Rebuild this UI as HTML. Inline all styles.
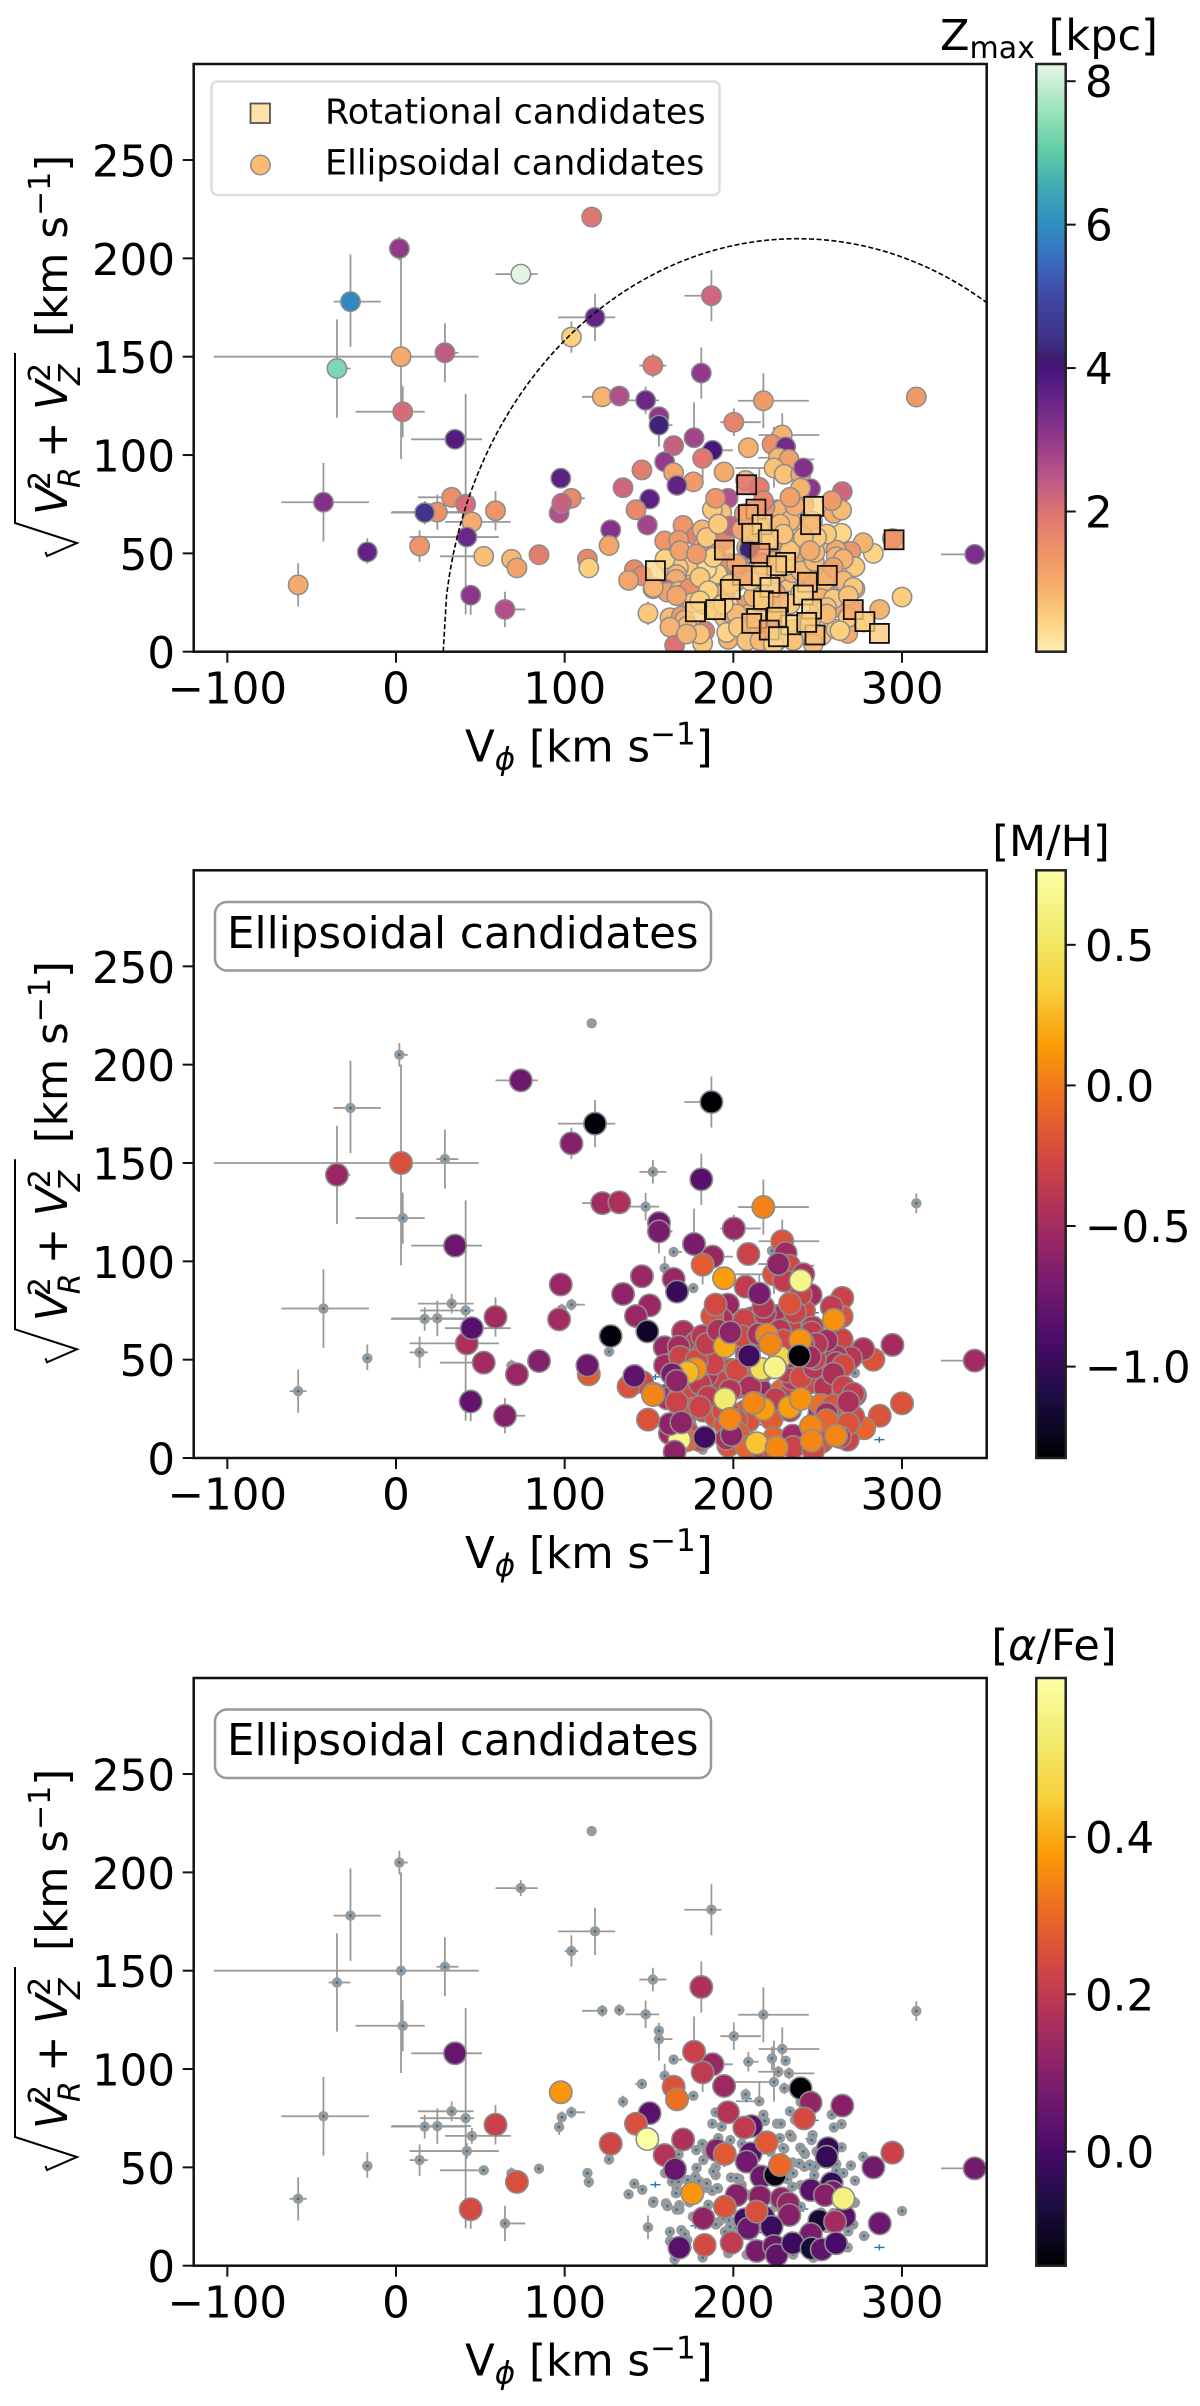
<!DOCTYPE html>
<html lang="en">
<head>
<meta charset="utf-8">
<title>Velocity diagrams coloured by Zmax, metallicity and alpha abundance</title>
<style>
html,body{margin:0;padding:0;background:#fff;}
svg{display:block;}
text{font-family:"DejaVu Sans","Liberation Sans",sans-serif;font-size:43.5px;fill:#000;}
</style>
</head>
<body>
<svg id="figure" xmlns="http://www.w3.org/2000/svg" width="1200" height="2406" viewBox="0 0 1200 2406">
  <defs id="chart-defs"></defs>
  <rect x="0" y="0" width="1200" height="2406" fill="#fff"/>

  <g id="panel-0">
    <g id="marks-0"></g>
    <g id="axes-0"></g>
    <g>
      <rect x="211.5" y="81.5" width="508" height="113.5" rx="6" fill="#fff" fill-opacity="0.8" stroke="#ddd" stroke-width="2.5"/>
      <rect x="250.5" y="103.5" width="19.5" height="19.5" fill="#fee2a8" stroke="#555" stroke-width="1.8"/>
      <circle cx="260.4" cy="165" r="9.7" fill="#fdbb72" stroke="#8c8c8c" stroke-width="1.5"/>
      <text x="325" y="123.5" style="font-size:35px">Rotational candidates</text>
      <text x="325" y="174.5" style="font-size:35px">Ellipsoidal candidates</text>
    </g>
    <text x="940" y="50" style="font-size:43px">Z<tspan style="font-size:30px" dy="8">max</tspan><tspan dy="-8"> [kpc]</tspan></text>
  </g>

  <g id="panel-1">
    <g id="marks-1"></g>
    <g id="axes-1"></g>
    <rect x="215" y="902" width="496" height="68.5" rx="12" fill="#fff" stroke="#999" stroke-width="2.5"/>
    <text x="227" y="948">Ellipsoidal candidates</text>
    <text x="1051" y="856" text-anchor="middle" style="font-size:43px">[M/H]</text>
  </g>

  <g id="panel-2">
    <g id="marks-2"></g>
    <g id="axes-2"></g>
    <rect x="215" y="1709.5" width="496" height="68.5" rx="12" fill="#fff" stroke="#999" stroke-width="2.5"/>
    <text x="227" y="1755">Ellipsoidal candidates</text>
    <text x="1054" y="1660" text-anchor="middle" style="font-size:43px">[<tspan font-style="italic">α</tspan>/Fe]</text>
  </g>

  <g>
    <text x="465" y="761.7">V<tspan style="font-size:31px" font-style="italic" dy="8">ϕ</tspan><tspan dy="-8"> [km s</tspan><tspan style="font-size:31px" dy="-17">−1</tspan><tspan dy="17">]</tspan></text>
  </g>
  <g transform="translate(0,806.3)">
    <text x="465" y="761.7">V<tspan style="font-size:31px" font-style="italic" dy="8">ϕ</tspan><tspan dy="-8"> [km s</tspan><tspan style="font-size:31px" dy="-17">−1</tspan><tspan dy="17">]</tspan></text>
  </g>
  <g transform="translate(0,1614)">
    <text x="465" y="761.7">V<tspan style="font-size:31px" font-style="italic" dy="8">ϕ</tspan><tspan dy="-8"> [km s</tspan><tspan style="font-size:31px" dy="-17">−1</tspan><tspan dy="17">]</tspan></text>
  </g>

  <g>
    <polyline points="15,353 15,523 77,543 47,556 45.5,552" fill="none" stroke="#000" stroke-width="2"/>
    <g transform="translate(67,555) rotate(-90)">
      <text x="40" y="0" font-style="italic">V</text><text x="65" y="-17" style="font-size:30px">2</text><text x="67" y="13" style="font-size:30px" font-style="italic">R</text>
      <text x="97" y="0">+</text>
      <text x="145" y="0" font-style="italic">V</text><text x="173" y="-17" style="font-size:30px">2</text><text x="170" y="13" style="font-size:30px" font-style="italic">Z</text>
      <text x="218" y="0">[km s<tspan style="font-size:30px" dy="-17">−1</tspan><tspan dy="17">]</tspan></text>
    </g>
  </g>
  <g transform="translate(0,806.3)">
    <polyline points="15,353 15,523 77,543 47,556 45.5,552" fill="none" stroke="#000" stroke-width="2"/>
    <g transform="translate(67,555) rotate(-90)">
      <text x="40" y="0" font-style="italic">V</text><text x="65" y="-17" style="font-size:30px">2</text><text x="67" y="13" style="font-size:30px" font-style="italic">R</text>
      <text x="97" y="0">+</text>
      <text x="145" y="0" font-style="italic">V</text><text x="173" y="-17" style="font-size:30px">2</text><text x="170" y="13" style="font-size:30px" font-style="italic">Z</text>
      <text x="218" y="0">[km s<tspan style="font-size:30px" dy="-17">−1</tspan><tspan dy="17">]</tspan></text>
    </g>
  </g>
  <g transform="translate(0,1614)">
    <polyline points="15,353 15,523 77,543 47,556 45.5,552" fill="none" stroke="#000" stroke-width="2"/>
    <g transform="translate(67,555) rotate(-90)">
      <text x="40" y="0" font-style="italic">V</text><text x="65" y="-17" style="font-size:30px">2</text><text x="67" y="13" style="font-size:30px" font-style="italic">R</text>
      <text x="97" y="0">+</text>
      <text x="145" y="0" font-style="italic">V</text><text x="173" y="-17" style="font-size:30px">2</text><text x="170" y="13" style="font-size:30px" font-style="italic">Z</text>
      <text x="218" y="0">[km s<tspan style="font-size:30px" dy="-17">−1</tspan><tspan dy="17">]</tspan></text>
    </g>
  </g>
</svg>

<script>
const n = null;

// Ellipsoidal candidates: azimuthal velocity, perpendicular velocity
const vPhi = [
116,2,74,-27,118,187,104,3,29,-35,
4,35,-43,-17,-58,33,24.5,17,41.3,59,
45,42,14,52,68.5,71.7,84.8,113.5,114.3,44.3,
64.6,97.7,96.7,104,98.3,122.3,132.4,148,152.3,181,
217.8,308.5,155.9,155.9,200.3,229,222.9,231,208.9,164.6,
226.7,233,159.3,224.1,230.2,145.8,176.3,207.3,215.4,134.6,
176.7,187.7,181.8,194.5,164.6,166.6,196.8,239.9,343.1,149.4,
264.6,210.7,206.5,219.8,256.1,255.3,190.1,194.9,210.3,207.9,
227.7,294.3,283,216.6,224.7,209.3,245.8,202,215.8,246,
258.3,258.9,254.3,265.2,195,228.6,232.6,233.2,265.8,251,
260.3,206.9,213.8,217.8,222.7,208.9,246,182.2,286.8,168,
183,199,213.8,224.1,225.7,235.2,246.4,252.4,260.9,150.4,
142.3,149,127.3,170.2,159.3,165.4,175.7,241.9,178,230.2,
259.6,264.2,225.9,228.2,218.7,193.1,187.5,189.5,234.6,247,
246.4,198.2,239.7,242.5,264.2,277,182.2,167.6,126.3,247.4,
269.7,261,261,235.2,239.1,242.1,235.5,189.5,189.5,198.6,
203.5,177.5,179.6,172.9,163.6,167.4,166.4,166,184.2,187.5,
190.9,235,272.1,141.3,146,137.9,152.4,160,160.9,168,
168,272.1,300,181.6,162.4,169.2,171.3,172.7,162.4,277.5,
267.8,165.2,181.8,197,191.5,197.4,189.7,271.1,195,198,
174,239.9,241.5,205,222,232,212,240,252,225,
205,176,240,248,215,
190.5,184.2,188.1,180.2,202,209.9,217.8,233.6,248.4,255.3,
265.2,259.3,265.2,271.1,259.3,268.2,255.3,268.2,263.2,255.3,
233.6,202,196,203,207.9,215.8,180.2,172.3,159.5,168.4,
178.2,184.2,191.1,233.6,236.5,233.6,258.3,217.8,227.6,229.6,
249.4,241.5,245.4,152.6,166.4,198,185.2,180.2,194,223.7,
235.5,247.4
];
const vPerp = [
221,205,192,178,170,181,160,150,152,144,
122,108,76,50.7,34,78.5,71,70.7,75,71.7,
66,58.3,53.7,48.5,47,42.6,49.3,47.1,42.6,28.7,
21.5,88.2,70.5,78,75.5,129.6,130,127.8,145.5,141.7,
127.6,129.5,119.5,115.2,116.7,110.2,105.4,104.2,103.7,104.8,
98.6,97.8,96.6,93.4,90.2,92.4,86.4,87.1,83.6,83.4,
108.8,102.4,98.3,91.4,91,84.6,78,90.2,49.5,19.5,
81.4,71,70.2,62.7,59.7,55.4,58.8,56.8,57.1,52.9,
51.2,57.5,50,45.3,46.1,52,82.9,35.9,35.1,38.5,
41.9,37.6,35.9,34.2,30,34.2,31.7,25.8,24.9,22.9,
22.4,23.6,27.5,24.9,19.8,19,16.1,24.1,21.5,9.2,
10.5,11.7,7.5,10,5.4,11.4,8.8,8.3,11.4,77.6,
72.2,64.4,62,64.2,56.3,49,36.8,74.9,58.8,59.5,
70.3,72,72.2,72.2,73.6,70.7,72.2,78,65.4,66.4,
63.9,63.9,60,56.8,60.2,55.4,53.7,56.6,54,50,
51,51.7,48.3,52.5,52,50.3,47,50,46.1,44.9,
44.1,45.3,43.1,43.6,42.7,42.7,39.2,36.8,39.7,38.1,
39.3,40.2,43.2,41.7,38.6,36.3,32,31.7,30.3,30.8,
28.6,32,27.8,62,17.3,18.1,16.1,13.1,12.5,15.1,
9.3,3.2,4.2,6.3,22.4,23.2,21,21,17.3,19.8,
32.2,83.2,93.4,62,58,44,28,30,27,30,
41,25,41,46,63,
39.5,42,48,37.8,44.6,36.1,44.6,51.4,50.5,59.8,
47.1,42.9,36.1,32.7,26.8,28.5,22.5,17.5,10.7,19.2,
24.2,19.2,9.8,12.4,5.6,5.6,9,9,47.1,51.4,
49.7,58.1,64.9,66.6,74.2,78.5,76.8,76.8,64.9,59.8,
58.1,58.1,51.4,32.7,28.5,34.4,31,25.9,24.2,3.9,
5.6,4
];
const zmaxValues = [
1.9,3,8.2,5.9,3.6,2.2,.5,1,2.4,7.3,
2.1,3.8,3.2,3.6,1,1.5,1.5,4.5,2.1,1.4,
1,3.5,1.4,.75,.85,1.15,1.8,1.6,.5,3.1,
2.6,3.7,2.6,1.6,2.3,.9,2.6,3.5,1.9,3,
1.3,1.3,3,4.2,1.7,.9,1.5,3.4,.95,2.3,
.85,1.2,3,.7,.7,1.8,1.3,.8,1.8,2.2,
2.8,4,1.9,1,1.1,3.6,2.6,1,3.3,.6,
2.2,1.5,1.4,1.4,.7,.8,1.2,1.7,1,.8,
1.5,1.4,.45,.6,1,4.2,3.1,1,.55,1,
1.1,.9,.7,.55,.7,1,.7,.6,.75,.8,
1.1,1.2,.6,1,.7,.8,.8,.8,.9,.55,
1.8,.9,.9,.5,.6,.7,.8,.65,.6,3.7,
1.6,2.8,3.2,1.4,1.4,1.1,.7,1.7,1.7,1,
1,.8,1.5,.9,1.5,.7,.6,1.4,.9,.7,
.8,2.3,.6,.9,.4,.9,.9,1.3,1.1,.8,
1.4,1,.9,.9,1.2,1,1.2,1.8,.55,1.5,
1.8,.8,1,.6,.5,.6,.8,1,.55,.5,
.6,.9,.6,1.6,1.6,1.1,1,2.3,1.2,.9,
1.2,.7,.55,.9,.8,1.3,.9,.8,.9,.6,
1,2,.6,.9,.7,.5,.4,1,.7,1,
1.5,.9,3.2,1.1,.9,.8,.9,.8,.9,1.3,
.9,.6,.8,.8,.7,
.45,.35,.5,.6,1.1,.5,.6,.7,.8,.6,
.9,1.2,.8,.6,.6,.7,.7,.6,.5,.8,
.6,.8,.45,.6,.7,.8,.7,.9,.45,1.2,
1.3,.6,.6,.8,1,1.2,1.3,1.6,.8,.7,
.6,.7,1,.9,1.1,.5,.45,.5,.4,.5,
.7,.7
];
const metallicityValues = [
n,n,-.75,n,-1.3,-1.33,-.65,-.22,n,-.55,
n,-.75,n,n,n,n,n,n,n,-.5,
-.85,-.45,n,-.5,n,-.55,-.65,-.75,-.15,-.8,
-.65,-.55,-.5,n,n,-.5,-.45,n,n,-.85,
.03,n,-.75,-.7,-.55,-.2,n,-.5,-.3,n,
-.6,-.25,n,-.2,-.35,-.55,n,-.35,-.7,-.6,
-.7,-.55,-.15,.15,-.55,-1,-.55,.65,-.5,-.2,
-.3,-.4,-.3,.05,-.5,-.45,-.45,.2,-.4,-.45,
.4,-.5,-.2,.45,.65,-.95,-.5,-.3,-.55,-.25,
-.25,-.3,-.4,-.45,.55,-.1,-.3,.15,-.45,-.5,
-.05,-.15,-.6,.15,-.15,-.2,.05,-.25,-.2,.65,
-.95,-.6,.3,-.1,.05,-.5,.05,-.2,.05,-.55,
-.55,-1.2,-1.3,-.45,-.55,-.35,-.15,-.25,-.35,-.45,
.1,-.2,-.35,-.45,-.4,-.45,-.2,-.25,-.4,-.4,
-.35,-.6,.1,-.25,-.3,-.45,-.35,-.5,n,-.35,
-.4,-.45,-.45,-.45,-1.32,-.3,-.25,-.3,-.25,-.25,
-.4,.1,-.35,.25,-.7,-.45,-.6,-.4,-.25,-.4,
-.35,-.4,n,-.8,-.25,-.2,.05,-.55,-.45,-.1,
-.4,-.45,-.2,-.4,-.6,-.6,-.1,-.25,-.5,-.1,
-.3,-.6,n,-.2,n,-.25,-.2,-.25,-.2,.05,
-.25,-.3,-.45,-.25,.05,-.35,.05,.1,-.05,-.35,
-.15,-.2,-.25,-.4,-.45,
-.3,-.4,-.3,-.35,-.25,-.45,-.3,-.45,-.3,-.5,
-.25,-.45,-.3,-.35,-.2,-.45,-.5,-.2,-.35,-.1,
-.4,-.2,-.45,-.15,-.1,-.3,-.25,-.1,-.5,-.3,
-.25,-.35,-.45,-.3,-.3,-.2,-.35,-.4,-.4,-.25,
-.4,-.3,-.5,-.2,-.3,-.4,-.35,-.3,-.25,-.2,
-.3,-.25
];
const alphaValues = [
n,n,n,n,n,n,n,n,n,n,
n,.05,n,n,n,n,n,n,n,.22,
n,n,n,n,n,.25,n,n,n,.24,
n,.37,n,n,n,n,n,n,n,.17,
n,n,n,n,n,n,n,n,n,n,
n,n,n,n,n,n,n,n,n,n,
.22,.13,.2,.14,.26,.31,.18,-.15,.07,n,
.1,.03,.2,.27,-.03,-.03,.1,.27,.03,.07,
.3,.22,.07,.06,-.12,n,.12,.1,.1,.03,
-.03,.08,.1,.55,.26,.12,.12,.1,.03,-.08,
.15,-.01,.25,0,-.02,.06,.08,.12,.06,.03,
.24,.2,.08,.06,.04,-.02,-.08,.04,0,.03,
.25,.6,.23,.17,.18,.05,.37,.24
];
// Asymmetric error bars of the first stars; later stars have a small default error
const errLeft = [
0,2,15,10,22,16,4,111,5,5,
28,26,25,3,5,20,27,20,27,5,
16,34,6,26,3,2,2,2,2,2,
3,2,2,3,3,12,2,12,8,3,
15,2,2,2,8,14,2,2,3,2,
12,3,2,23,3,4,2,2,14,3,
3,2,6,2,2,2,2,3,20,2
];
const errRight = [
0,5,10,18,12,6,4,46,8,8,
13,16,27,3,5,13,20,25,5,3,
23,19,5,3,3,2,2,2,2,2,
12,3,3,8,3,0,3,8,8,3,
27,2,2,8,16,22,2,2,6,5,
3,15,2,0,2,2,3,2,2,2,
3,12,3,2,2,2,2,3,2,2
];
const errDown = [
0,6,4,23,12,13,8,52,15,25,
13,5,20,6,11,5,9,6,56,10,
4,4,8,2,3,3,2,2,3,10,
9,2,4,3,3,3,3,7,6,13,
14,5,10,11,7,5,6,2,5,2,
3,3,3,10,3,2,2,4,2,3,
3,3,10,2,2,2,2,3,2,6
];
const errUp = [
0,6,4,24,12,13,8,50,15,25,
13,5,20,7,11,5,9,6,56,10,
4,4,8,2,3,3,2,2,3,5,
9,2,4,3,3,3,3,7,6,13,
14,5,4,3,7,11,6,2,5,2,
3,3,6,21,3,2,2,3,10,3,
18,3,6,2,2,2,2,3,2,6
];

// Rotational candidates
const rotPhi = [207.9,213.4,208.9,217,210.9,220.7,215.8,194.7,247.6,245.8,295.3,153.8,231,225.7,205.3,216.6,255.7,243.9,198.2,221.7,241.5,217.8,226.7,246.4,177.5,189.5,271.1,213.8,210.9,234,225.7,278,221.3,248.4,286.6,226.7,243.5];
const rotPerp = [84.9,72.5,69.7,64.6,60.2,56.9,50,51.7,73.9,64.6,56.9,41.2,45.4,43.7,38.8,38.6,38.8,35.3,31.7,32.7,28.8,25.9,25.1,21.7,20.3,21.4,21.4,16.9,14.4,13.7,17.5,15.3,11,8.5,9.3,7.6,14.9];
const rotZmax = [2,1.2,1,.5,.6,.5,1.4,.95,.4,.8,1.4,.4,.5,.6,1.2,.6,1,1,.65,.35,.35,.5,.8,.5,.5,.55,1.1,.5,.9,.45,.6,.45,1.2,.85,.6,.4,.5];

// Axis ticks
const xTicks = [-100,0,100,200,300];
const yTicks = [0,50,100,150,200,250];
const zmaxTicks = [2,4,6,8];
const metallicityTicks = [-1,-0.5,0,0.5];
const alphaTicks = [0,0.2,0.4];
const zmaxTickLabels = ['2','4','6','8'];
const metallicityTickLabels = ['−1.0','−0.5','0.0','0.5'];
const alphaTickLabels = ['0.0','0.2','0.4'];

// Colour maps
const zCmapValues = [.045,.5,1,1.5,2,2.5,3,3.5,4,4.15,4.3,5,5.5,6,6.5,7,7.5,8.24];
const zCmapColors = ['#feecb0','#fcd17e','#f5ab6b','#ed8f68','#dc7272','#b8568a','#93398c','#6b2688','#45157c','#3f1c6e','#3d2d80','#4048a5','#3a6cc0','#2e8fc0','#3fa9b5','#5fcba8','#90e0b5','#e6f8e6'];
const infernoColors = ['#000004','#1b0c41','#4a0c6b','#781c6d','#a52c60','#cf4446','#ed6925','#fb9b06','#f7d13d','#f1ed6f','#fcffa4'];

const SVGNS = 'http://www.w3.org/2000/svg';
const X_ZERO = 396, X_SCALE = 1.6867, Y_SCALE = 1.9667;
const AXIS_LEFT = 193.7, AXIS_RIGHT = 986.7, AXIS_HEIGHT = 587.7;
const CBAR_LEFT = 1036.3, CBAR_RIGHT = 1065.7;
const bottoms = [651.7, 1458, 2265.7];

function hexToRgb(h){return [parseInt(h.slice(1,3),16),parseInt(h.slice(3,5),16),parseInt(h.slice(5,7),16)];}
function interpolate(colors, positions, value){
  if(value<=positions[0]) return colors[0];
  for(let i=1;i<positions.length;i++){
    if(value<=positions[i]){
      const t=(value-positions[i-1])/(positions[i]-positions[i-1]);
      const a=hexToRgb(colors[i-1]), b=hexToRgb(colors[i]);
      return 'rgb('+[0,1,2].map(k=>Math.round(a[k]+(b[k]-a[k])*t)).join(',')+')';
    }
  }
  return colors[colors.length-1];
}
const infernoPositions = infernoColors.map((c,i)=>i/(infernoColors.length-1));
function zColor(z){return interpolate(zCmapColors,zCmapValues,z);}
function metalColor(v){return interpolate(infernoColors,infernoPositions,(v+1.325)/(0.765+1.325));}
function alphaColor(v){return interpolate(infernoColors,infernoPositions,(v+0.145)/(0.602+0.145));}

function xPos(v){return X_ZERO+X_SCALE*v;}
function yPos(v,bottom){return bottom-Y_SCALE*v;}
function make(tag,parent,attrs){
  const e=document.createElementNS(SVGNS,tag);
  for(const k in attrs) e.setAttribute(k,attrs[k]);
  parent.appendChild(e);
  return e;
}
const defs=document.getElementById('chart-defs');

function drawErrorBars(group,bottom,stroke){
  for(let i=0;i<vPhi.length;i++){
    const el=errLeft[i]??2, er=errRight[i]??2, ed=errDown[i]??2, eu=errUp[i]??2;
    const cx=xPos(vPhi[i]), cy=yPos(vPerp[i],bottom);
    const bar=make('path',group,{d:'M'+xPos(vPhi[i]-el)+' '+cy+'H'+xPos(vPhi[i]+er)+'M'+cx+' '+yPos(vPerp[i]-ed,bottom)+'V'+yPos(vPerp[i]+eu,bottom),stroke:stroke,'stroke-width':1.8,fill:'none'});
    
    
  }
}

function drawPanel(index){
  const bottom=bottoms[index];
  const clipId='clip-'+index;
  const clip=make('clipPath',defs,{id:clipId});
  make('rect',clip,{x:AXIS_LEFT,y:bottom-AXIS_HEIGHT,width:AXIS_RIGHT-AXIS_LEFT,height:AXIS_HEIGHT});
  const holder=document.getElementById('marks-'+index);
  const marks=make('g',holder,{'clip-path':'url(#'+clipId+')'});
  
  

  drawErrorBars(marks,bottom,'#999');

  if(index===0){
    for(let i=0;i<vPhi.length;i++){
      const dot=make('circle',marks,{cx:xPos(vPhi[i]),cy:yPos(vPerp[i],bottom),r:9.7,fill:zColor(zmaxValues[i]),stroke:'#8c8c8c','stroke-width':1.5});
      
      
    }
    for(let i=0;i<rotPhi.length;i++){
      const cx=xPos(rotPhi[i]), cy=yPos(rotPerp[i],bottom);
      const sq=make('rect',marks,{x:cx-9.5,y:cy-9.5,width:19,height:19,fill:zColor(rotZmax[i]),'fill-opacity':0.78,stroke:'#111','stroke-width':1.8});
      
      
    }
    // Dashed velocity boundary: circle of radius 210 about the rotation speed 238
    const pts=[];
    for(let v=28;v<=350;v+=2){
      const h=Math.sqrt(Math.max(0,210*210-(v-238)*(v-238)));
      pts.push(xPos(v)+','+yPos(h,bottom));
    }
    const curve=make('polyline',marks,{points:pts.join(' '),fill:'none',stroke:'#000','stroke-width':1.6,'stroke-dasharray':'5 2.5'});
    
    
  } else {
    const values=index===1?metallicityValues:alphaValues;
    const colorFn=index===1?metalColor:alphaColor;
    for(let i=0;i<rotPhi.length;i++){
      const cx=xPos(rotPhi[i]), cy=yPos(rotPerp[i],bottom);
      const cross=make('path',marks,{d:'M'+xPos(rotPhi[i]-3)+' '+cy+'H'+xPos(rotPhi[i]+3)+'M'+cx+' '+(cy-3)+'V'+(cy+3),stroke:'#1f77b4','stroke-width':1.4,fill:'none'});
      
      
    }
    for(let i=0;i<vPhi.length;i++){
      const cx=xPos(vPhi[i]), cy=yPos(vPerp[i],bottom);
      const small=make('circle',marks,{cx:cx,cy:cy,r:5.2,fill:'#999'});
      
      
      if(errLeft[i]===0) continue;
      const core=make('circle',marks,{cx:cx,cy:cy,r:1.4,fill:'#1f77b4'});
      
      
    }
    // Overlap order: mid-range values sit below the extreme ones
    const order=[];
    for(let i=0;i<vPhi.length;i++){
      if(values[i]!==null&&values[i]!==undefined) order.push(i);
    }
    const onTop=index===1?(v=>v>=0||v<=-.6):(v=>v>=.2);
    order.sort((a,b)=>(onTop(values[a])?1:0)-(onTop(values[b])?1:0));
    order.forEach(function(i){
      const dot=make('circle',marks,{cx:xPos(vPhi[i]),cy:yPos(vPerp[i],bottom),r:11.2,fill:colorFn(values[i]),stroke:'#8c8c8c','stroke-width':1.6});
      
      
    });
  }

  const axes=document.getElementById('axes-'+index);
  const frame=make('rect',axes,{x:AXIS_LEFT,y:bottom-AXIS_HEIGHT,width:AXIS_RIGHT-AXIS_LEFT,height:AXIS_HEIGHT,fill:'none',stroke:'#111','stroke-width':2.5});
  
  
  xTicks.forEach(function(t){
    const px=xPos(t);
    const tick=make('line',axes,{x1:px,x2:px,y1:bottom,y2:bottom+11,stroke:'#111','stroke-width':2});
    
    
    const label=make('text',axes,{x:px,y:bottom+51.6,'text-anchor':'middle'});
    label.textContent=(t<0?'−':'')+Math.abs(t);
    
    
  });
  yTicks.forEach(function(t){
    const py=yPos(t,bottom);
    const tick=make('line',axes,{x1:AXIS_LEFT-11,x2:AXIS_LEFT,y1:py,y2:py,stroke:'#111','stroke-width':2});
    
    
    const label=make('text',axes,{x:175,y:py+16.5,'text-anchor':'end'});
    label.textContent=String(t);
    
    
  });
}

function drawColorbar(index,colors,positions,lo,hi,ticks,labels){
  const bottom=bottoms[index], top=bottom-AXIS_HEIGHT;
  const gradId='cmap-'+index;
  const grad=make('linearGradient',defs,{id:gradId,x1:0,y1:1,x2:0,y2:0});
  colors.forEach(function(c,i){
    make('stop',grad,{offset:positions[i],'stop-color':c});
  });
  const axes=document.getElementById('axes-'+index);
  const bar=make('rect',axes,{x:CBAR_LEFT,y:top,width:CBAR_RIGHT-CBAR_LEFT,height:AXIS_HEIGHT,fill:'url(#'+gradId+')',stroke:'#222','stroke-width':2.5});
  
  
  ticks.forEach(function(t,i){
    const py=bottom-(t-lo)/(hi-lo)*AXIS_HEIGHT;
    const tick=make('line',axes,{x1:CBAR_RIGHT,x2:CBAR_RIGHT+10,y1:py,y2:py,stroke:'#111','stroke-width':2});
    
    
    const label=make('text',axes,{x:1085,y:py+16});
    label.textContent=labels[i];
    
    
  });
}

drawPanel(0);
drawPanel(1);
drawPanel(2);
drawColorbar(0,zCmapColors,zCmapValues.map(v=>(v-.045)/(8.24-.045)),.045,8.24,zmaxTicks,zmaxTickLabels);
drawColorbar(1,infernoColors,infernoPositions,-1.325,.765,metallicityTicks,metallicityTickLabels);
drawColorbar(2,infernoColors,infernoPositions,-.145,.602,alphaTicks,alphaTickLabels);
</script>
</body>
</html>
